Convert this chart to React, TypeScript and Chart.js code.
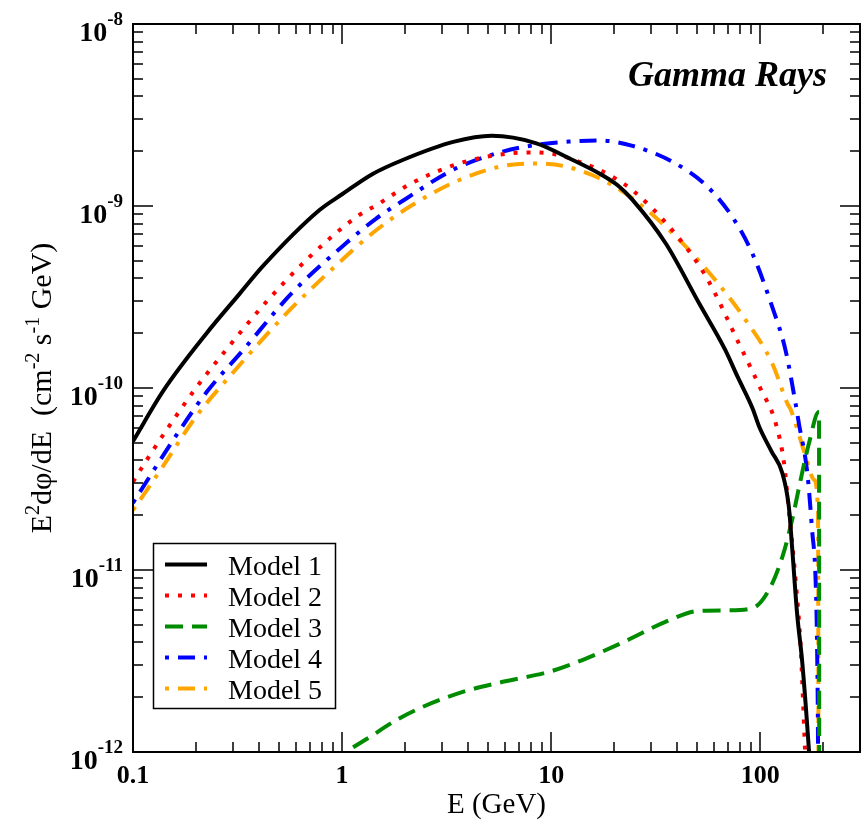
import React, { useEffect, useRef } from 'react';
import { Chart, registerables } from 'chart.js';

Chart.register(...registerables);

// ---------------- data ----------------
const energyModel1 = [0.1, 0.14, 0.225, 0.324, 0.42, 0.78, 1.0, 1.4, 1.95, 3.4, 5.2, 8.5, 12.2, 17, 20.8, 24.5, 35.4, 51, 68, 78, 92, 99, 113, 127.6, 137, 142, 150, 159, 171, 176];
const fluxModel1 = [5.1e-11, 9.7e-11, 2.0e-10, 3.3e-10, 4.7e-10, 9.5e-10, 1.16e-9, 1.5e-9, 1.79e-9, 2.25e-9, 2.43e-9, 2.21e-9, 1.83e-9, 1.51e-9, 1.3e-9, 1.08e-9, 6.2e-10, 2.92e-10, 1.62e-10, 1.15e-10, 7.7e-11, 6.1e-11, 4.5e-11, 3.4e-11, 2.23e-11, 1.34e-11, 5.8e-12, 3.07e-12, 1.02e-12, 6e-13];

const energyModel2 = [0.1, 0.116, 0.145, 0.2, 0.28, 0.435, 0.7, 1.17, 1.48, 2.14, 3.5, 5.25, 7.9, 10.5, 13.6, 17, 20, 24.5, 36.7, 55, 79, 100, 118.6, 130, 135, 147.6, 156, 163.5, 167];
const fluxModel2 = [3.05e-11, 4.0e-11, 5.9e-11, 1.0e-10, 1.63e-10, 2.98e-10, 5.26e-10, 8.7e-10, 1.02e-9, 1.33e-9, 1.69e-9, 1.89e-9, 1.97e-9, 1.92e-9, 1.75e-9, 1.58e-9, 1.43e-9, 1.22e-9, 7.7e-10, 4.1e-10, 1.76e-10, 1.0e-10, 6.4e-11, 3.86e-11, 2.53e-11, 8.8e-12, 3.8e-12, 1.07e-12, 6e-13];

const energyModel3 = [0.9, 1.05, 1.36, 1.82, 2.43, 3.78, 5.87, 9.8, 14.1, 22, 36.7, 51, 71, 91.6, 110, 127.6, 142, 156, 171, 191, 191.5];
const fluxModel3 = [8.5e-13, 1.0e-12, 1.21e-12, 1.5e-12, 1.77e-12, 2.14e-12, 2.43e-12, 2.76e-12, 3.2e-12, 4.0e-12, 5.3e-12, 5.97e-12, 6.0e-12, 6.16e-12, 7.76e-12, 1.18e-11, 1.88e-11, 3.13e-11, 4.97e-11, 7.4e-11, 5e-13];

const energyModel4 = [0.1, 0.125, 0.156, 0.225, 0.337, 0.573, 1.05, 1.45, 2.03, 3.39, 5.87, 9.1, 12.2, 17, 24.5, 38, 55, 73.6, 91.6, 114, 132, 147.6, 153, 168, 177, 184, 187, 189, 189.5];
const fluxModel4 = [2.34e-11, 3.5e-11, 5.2e-11, 9.5e-11, 1.62e-10, 3.31e-10, 6.28e-10, 8.5e-10, 1.1e-9, 1.58e-9, 1.99e-9, 2.19e-9, 2.26e-9, 2.29e-9, 2.14e-9, 1.75e-9, 1.3e-9, 8.7e-10, 5.5e-10, 2.8e-10, 1.62e-10, 8.2e-11, 6.4e-11, 3.4e-11, 1.66e-11, 8.8e-12, 3.8e-12, 1.07e-12, 5e-13];

const energyModel5 = [0.1, 0.137, 0.2, 0.313, 0.542, 0.905, 1.4, 2.1, 3.64, 6.3, 8.8, 11.4, 17, 24.5, 39.5, 59, 85, 114, 135, 140, 165, 181, 189, 190];
const fluxModel5 = [2.13e-11, 3.62e-11, 6.95e-11, 1.28e-10, 2.57e-10, 4.55e-10, 7.1e-10, 9.9e-10, 1.39e-9, 1.68e-9, 1.71e-9, 1.66e-9, 1.42e-9, 1.1e-9, 6.8e-10, 4.1e-10, 2.37e-10, 1.37e-10, 8.2e-11, 7.6e-11, 4.2e-11, 3.13e-11, 2.06e-11, 5e-13];

const seriesLabels = ['Model 1', 'Model 2', 'Model 3', 'Model 4', 'Model 5'];
const xDecadeTicks = [0.1, 1, 10, 100];
const xTickLabels = ['0.1', '1', '10', '100'];
const yDecadeExponents = [-8, -9, -10, -11, -12];
const xMin = 0.1;
const xMax = 300;
const yMin = 1e-12;
const yMax = 1e-8;

const xTitle = 'E (GeV)';
const plotLabel = 'Gamma Rays';

// ---------------- styles ----------------
const W = 868;
const H = 822;
const SERIF = '"Liberation Serif", "Times New Roman", Times, serif';
const seriesColors = ['#000000', '#ff0000', 'rgb(0,140,0)', '#0000ff', '#ffa500'];
const seriesDashes: number[][] = [[], [4, 9], [18, 9], [4, 9, 17, 9], [4, 9, 17, 9]];

function toPoints(xs: number[], ys: number[]) {
  return xs.map((x, i) => ({ x, y: ys[i] }));
}

const overlayPlugin = {
  id: 'overlay',
  afterDatasetsDraw(chart: any) {
    const ctx: CanvasRenderingContext2D = chart.ctx;
    const xs = chart.scales.x;
    const ys = chart.scales.y;
    const { left, right, top, bottom } = chart.chartArea;
    ctx.save();

    // ticks (inside, mirrored)
    ctx.strokeStyle = '#000';
    ctx.lineWidth = 1.5;
    ctx.setLineDash([]);
    ctx.beginPath();
    for (const d of xDecadeTicks) {
      for (let k = 1; k <= 9; k++) {
        const v = k * d;
        if (v < xMin || v >= xMax) continue;
        const px = Math.round(xs.getPixelForValue(v));
        const len = k === 1 ? 20 : 10;
        ctx.moveTo(px, bottom);
        ctx.lineTo(px, bottom - len);
        ctx.moveTo(px, top);
        ctx.lineTo(px, top + len);
      }
    }
    for (const e of yDecadeExponents) {
      for (let k = 1; k <= 9; k++) {
        const v = k * Math.pow(10, e);
        if (v < yMin * 0.999 || v > yMax * 1.001) continue;
        const py = Math.round(ys.getPixelForValue(v));
        const len = k === 1 ? 20 : 10;
        ctx.moveTo(left, py);
        ctx.lineTo(left + len, py);
        ctx.moveTo(right, py);
        ctx.lineTo(right - len, py);
      }
    }
    ctx.stroke();

    // frame
    ctx.lineWidth = 2;
    ctx.strokeRect(left, top, right - left, bottom - top);

    // x tick labels
    ctx.fillStyle = '#000';
    ctx.font = `bold 26px ${SERIF}`;
    ctx.textAlign = 'center';
    ctx.textBaseline = 'alphabetic';
    xDecadeTicks.forEach((v, i) => {
      const px = xs.getPixelForValue(v);
      ctx.fillText(xTickLabels[i], px, bottom + 31);
    });

    // y tick labels 10^n
    ctx.textAlign = 'left';
    for (const e of yDecadeExponents) {
      const py = ys.getPixelForValue(Math.pow(10, e));
      ctx.font = `bold 28px ${SERIF}`;
      const wBase = ctx.measureText('10').width;
      ctx.font = `bold 19px ${SERIF}`;
      const expText = String(e);
      const wExp = ctx.measureText(expText).width;
      const xRight = left - 10;
      const x0 = xRight - wBase - wExp;
      ctx.font = `bold 28px ${SERIF}`;
      ctx.fillText('10', x0, py + 17);
      ctx.font = `bold 19px ${SERIF}`;
      ctx.fillText(expText, x0 + wBase, py + 1);
    }

    // x title
    ctx.font = `29px ${SERIF}`;
    ctx.textAlign = 'center';
    ctx.fillText(xTitle, (left + right) / 2, 813);

    // y title (rotated, with superscripts)
    const runs: { t: string; sup: boolean }[] = [
      { t: 'E', sup: false },
      { t: '2', sup: true },
      { t: 'dφ/dE  (cm', sup: false },
      { t: '-2', sup: true },
      { t: ' s', sup: false },
      { t: '-1', sup: true },
      { t: ' GeV)', sup: false },
    ];
    const mainFont = `30px ${SERIF}`;
    const supFont = `20px ${SERIF}`;
    let total = 0;
    const widths = runs.map((r) => {
      ctx.font = r.sup ? supFont : mainFont;
      const w = ctx.measureText(r.t).width;
      total += w;
      return w;
    });
    ctx.translate(51, (top + bottom) / 2);
    ctx.rotate(-Math.PI / 2);
    ctx.textAlign = 'left';
    let cx = -total / 2;
    runs.forEach((r, i) => {
      ctx.font = r.sup ? supFont : mainFont;
      ctx.fillText(r.t, cx, r.sup ? -12 : 0);
      cx += widths[i];
    });
    ctx.setTransform(1, 0, 0, 1, 0, 0);

    // plot label
    ctx.font = `italic bold 36px ${SERIF}`;
    ctx.textAlign = 'right';
    ctx.fillText(plotLabel, 827, 86);

    // legend
    const bx = 153.5, by = 543.5, bw = 182, bh = 165;
    ctx.fillStyle = '#fff';
    ctx.fillRect(bx, by, bw, bh);
    ctx.strokeStyle = '#000';
    ctx.lineWidth = 1.5;
    ctx.strokeRect(bx, by, bw, bh);
    seriesLabels.forEach((lab, i) => {
      const ly = 564.5 + i * 31;
      ctx.strokeStyle = seriesColors[i];
      ctx.lineWidth = 4;
      ctx.lineCap = 'butt';
      ctx.setLineDash(seriesDashes[i]);
      ctx.beginPath();
      ctx.moveTo(165, ly);
      ctx.lineTo(207, ly);
      ctx.stroke();
      ctx.setLineDash([]);
      ctx.fillStyle = '#000';
      ctx.font = `28px ${SERIF}`;
      ctx.textAlign = 'left';
      ctx.fillText(lab, 228, ly + 10);
    });

    ctx.restore();
  },
};

export default function App() {
  const ref = useRef<HTMLCanvasElement | null>(null);
  useEffect(() => {
    const canvas = ref.current;
    if (!canvas) return;
    const energies = [energyModel1, energyModel2, energyModel3, energyModel4, energyModel5];
    const fluxes = [fluxModel1, fluxModel2, fluxModel3, fluxModel4, fluxModel5];
    const chart = new Chart(canvas, {
      type: 'line',
      data: {
        datasets: seriesLabels.map((label, i) => ({
          label,
          data: toPoints(energies[i], fluxes[i]),
          borderColor: seriesColors[i],
          backgroundColor: seriesColors[i],
          borderWidth: 4,
          borderDash: seriesDashes[i],
          borderCapStyle: 'butt',
          pointRadius: 0,
          fill: false,
          cubicInterpolationMode: 'monotone',
          clip: 0,
        })) as any,
      },
      options: {
        responsive: false,
        maintainAspectRatio: false,
        devicePixelRatio: 1,
        animation: false,
        layout: { padding: { left: 133, top: 24, right: 8, bottom: 70 } },
        plugins: { legend: { display: false }, tooltip: { enabled: false } },
        scales: {
          x: { type: 'logarithmic', min: xMin, max: xMax, display: false },
          y: { type: 'logarithmic', min: yMin, max: yMax, display: false },
        },
      } as any,
      plugins: [overlayPlugin],
    });
    return () => chart.destroy();
  }, []);
  return (
    <div style={{ position: 'absolute', left: 0, top: 0, width: W, height: H, background: '#fff' }}>
      <canvas ref={ref} width={W} height={H} style={{ display: 'block', width: W, height: H }} />
    </div>
  );
}
